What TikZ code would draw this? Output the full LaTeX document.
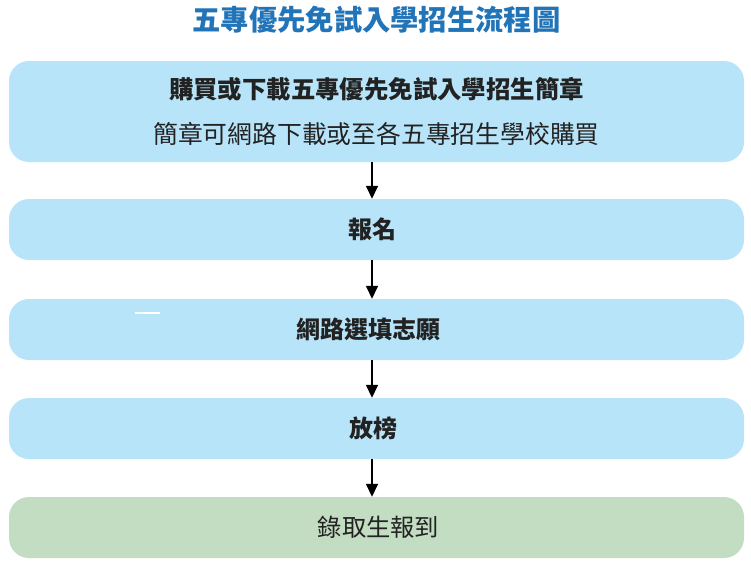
\documentclass[tikz,border=0pt]{standalone}
\usepackage{fontspec}
\setmainfont{Noto Sans CJK TC}
\usetikzlibrary{arrows.meta}
\definecolor{boxblue}{HTML}{B8E4F9}
\definecolor{boxgreen}{HTML}{C2DDC2}
\definecolor{titleblue}{HTML}{2274B8}
\definecolor{txt}{HTML}{222222}
\tikzset{
  stepbox/.style={rounded corners=20pt, minimum width=735pt, minimum height=61pt, inner sep=0pt, text=txt, font=\fontsize{24}{28}\selectfont\bfseries},
  bluebox/.style={stepbox, fill=boxblue},
  greenbox/.style={stepbox, fill=boxgreen, font=\fontsize{24.3}{28}\selectfont},
  flowarrow/.style={line width=1.5pt, -{Triangle[width=12pt,length=13pt]}},
}
\begin{document}
\begin{tikzpicture}[x=1pt,y=-1pt]
\useasboundingbox (0,0) rectangle (751,573);
\node[font=\fontsize{28.3}{32}\selectfont\bfseries, text=titleblue] (title) at (376.5,20) {五專優先免試入學招生流程圖};
\node[bluebox, minimum height=101pt, align=center, font=\fontsize{24.4}{45}\selectfont] (b1) at (376.5,111.5)
  {{\bfseries 購買或下載五專優先免試入學招生簡章}\\ {\fontsize{24.8}{45}\selectfont 簡章可網路下載或至各五專招生學校購買}};
\node[bluebox] (b2) at (376.5,229.5) {\kern-8pt 報名};
\node[bluebox] (b3) at (376.5,329.5) {\kern-16pt 網路選填志願};
\node[bluebox] (b4) at (376.5,428.5) {\kern-6pt 放榜};
\node[greenbox] (b5) at (376.5,527.5) {\kern4pt 錄取生報到};
\fill[white] (135,312) rectangle (160,314);
\draw[flowarrow] ([xshift=-4.5pt]b1.south) -- ([xshift=-4.5pt]b2.north);
\draw[flowarrow] ([xshift=-4.5pt]b2.south) -- ([xshift=-4.5pt]b3.north);
\draw[flowarrow] ([xshift=-4.5pt]b3.south) -- ([xshift=-4.5pt]b4.north);
\draw[flowarrow] ([xshift=-4.5pt]b4.south) -- ([xshift=-4.5pt]b5.north);
\end{tikzpicture}
\end{document}
